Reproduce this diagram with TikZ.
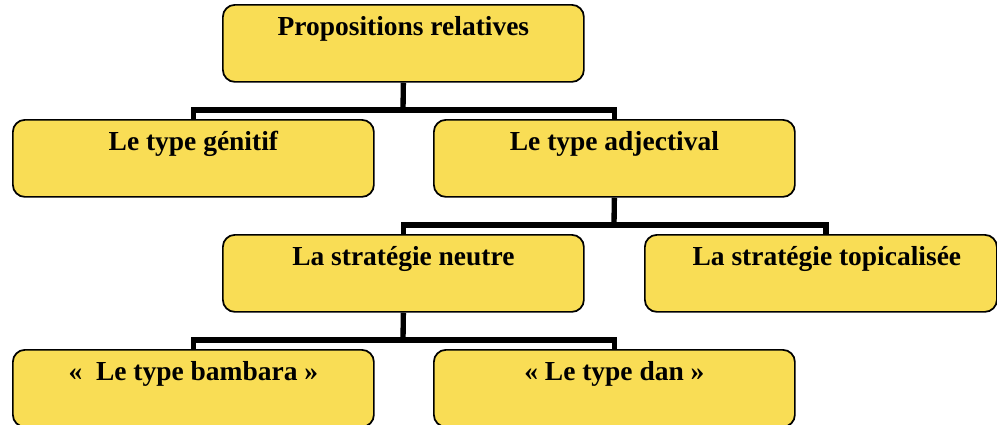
\documentclass[tikz,border=0pt]{standalone}
\usepackage{fontspec}
\setmainfont{Liberation Serif}
\definecolor{boxfill}{HTML}{F9DD55}
\begin{document}
\begin{tikzpicture}[x=0.75pt,y=-0.75pt,
  box/.style={draw=black, line width=1.3pt, fill=boxfill, rounded corners=9pt,
    minimum width=#1*0.75pt, inner xsep=0pt, inner ysep=0pt,
    text height=23.25pt, text depth=34.5pt,
    font=\fontsize{20.6}{24}\selectfont\bfseries, anchor=north west},
  box/.default=361,
  conn/.style={line width=4pt, line join=miter, draw=black}]
\useasboundingbox (0,0) rectangle (997,425);
% connectors first (behind boxes)
\coordinate (j1) at (403,110);
\coordinate (j2) at (614,225);
\coordinate (j3) at (403,340);
\node[box] (top) at (222,4) {Propositions relatives};
\node[box] (gen) at (12,119) {Le type génitif};
\node[box] (adj) at (433,119) {Le type adjectival};
\node[box] (neu) at (222,234) {La stratégie neutre};
\node[box=352] (topi) at (644,234) {\hspace*{9pt}La stratégie topicalisée};
\node[box] (bam) at (12,349) {«~~Le type bambara »};
\node[box] (dan) at (433,349) {« Le type dan »};
\begin{scope}[on background layer/.try]
\end{scope}
\draw[conn] (top.south) -- (j1);
\draw[conn] (gen.north) |- (j1) -| (adj.north);
\draw[conn] (adj.south) -- (j2);
\draw[conn] (neu.north) |- (j2) -| ([xshift=5*0.75pt]topi.north);
\draw[conn] (neu.south) -- (j3);
\draw[conn] (bam.north) |- (j3) -| (dan.north);
\end{tikzpicture}
\end{document}
